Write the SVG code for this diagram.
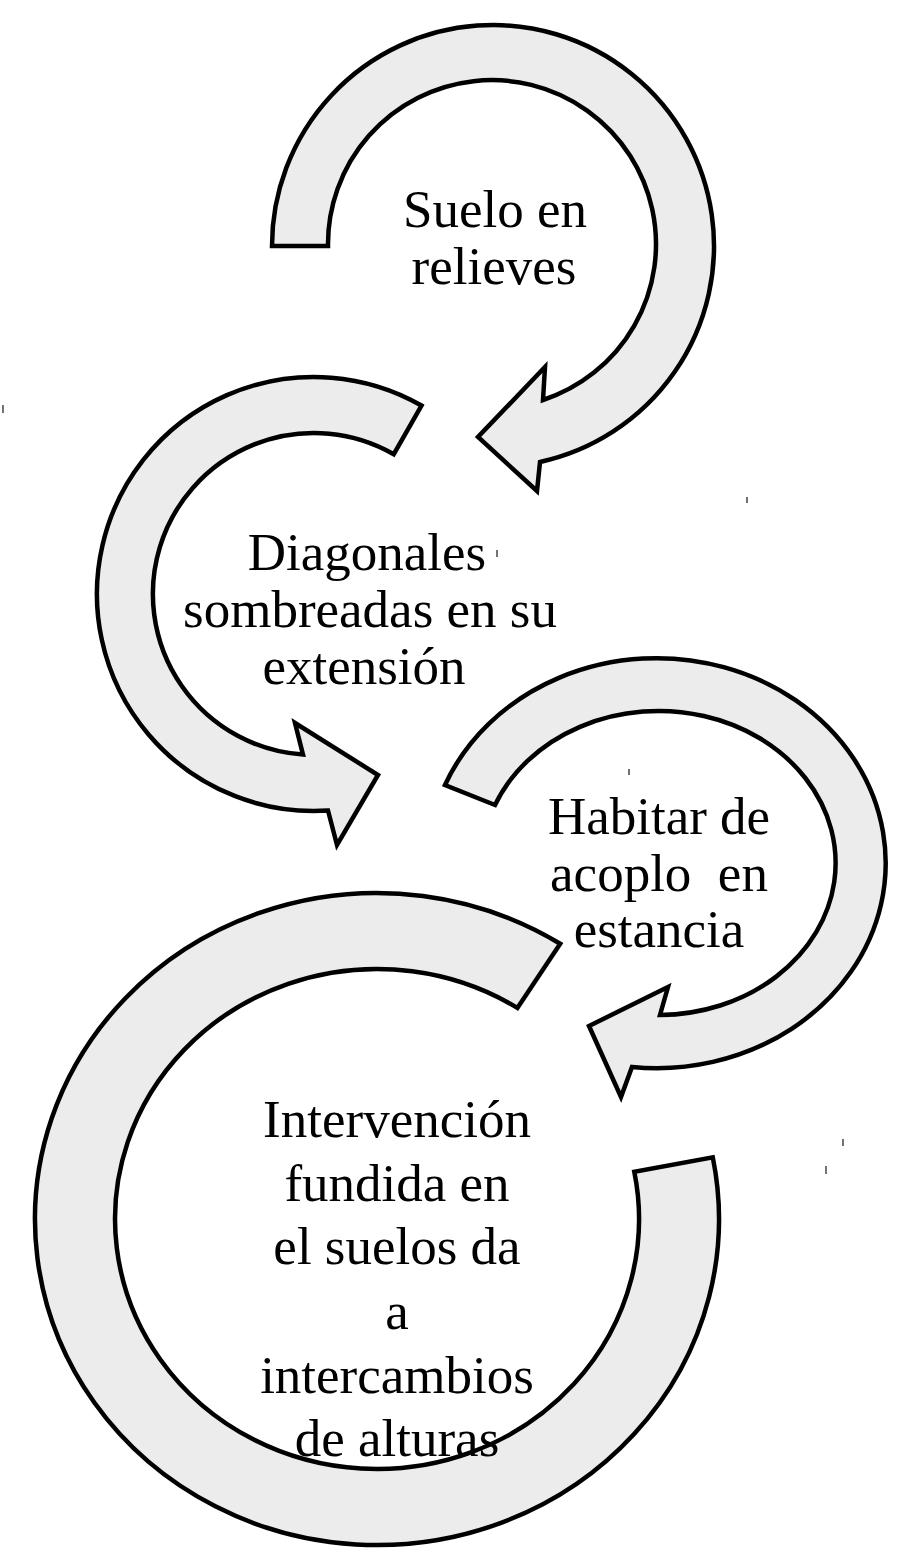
<svg xmlns="http://www.w3.org/2000/svg" width="906" height="1549" viewBox="0 0 906 1549">
<style>
.arr{fill:#ececec;stroke:#000;stroke-width:4.5;stroke-linejoin:miter;stroke-miterlimit:10}
.lbl{font-family:"Liberation Serif","Times New Roman",serif;font-size:53px;fill:#000;text-anchor:middle}
.tick{stroke:#444;stroke-width:1.5}
</style>
<rect width="906" height="1549" fill="#fff"/>
<g id="connectors">
<g class="tick">
<line x1="3" y1="405" x2="3" y2="413"/>
<line x1="747" y1="497" x2="747" y2="503"/>
<line x1="497" y1="550" x2="497" y2="557"/>
<line x1="629" y1="769" x2="629" y2="775"/>
<line x1="843" y1="1139" x2="843" y2="1146"/>
<line x1="826" y1="1166" x2="826" y2="1174"/>
</g>
</g>
<g id="node-suelo">
<path class="arr" d="M272,246 A221,221 0 1 1 540,462 L537,491 L478,437 L545,367 L543,400 A164,164 0 1 0 328,246 Z"/>
<text class="lbl" x="495" y="227">Suelo en</text>
<text class="lbl" x="494" y="284">relieves</text>
</g>
<g id="node-diagonales">
<path class="arr" d="M421.5,405.5 A217,217 0 1 0 328,810.5 L337,845 L378,775 L295,723 L303,754.6 A161,161 0 1 1 393.8,454.2 Z"/>
<text class="lbl" x="367" y="570">Diagonales</text>
<text class="lbl" x="370" y="627">sombreadas en su</text>
<text class="lbl" x="364" y="684">extensión</text>
</g>
<g id="node-habitar">
<path class="arr" d="M445,785 A229,205 0 1 1 632,1067 L621,1097 L589,1026 L668,987 L660,1015 A177,152 0 1 0 495,805 Z"/>
<text class="lbl" x="659" y="834">Habitar de</text>
<text class="lbl" x="659" y="891" xml:space="preserve">acoplo  en</text>
<text class="lbl" x="659" y="947">estancia</text>
</g>
<g id="node-intervencion">
<path class="arr" d="M560.2,943.8 A342,326 0 1 0 712.8,1157.4 L634.3,1171.7 A262,250 0 1 1 517.4,1007.9 Z"/>
<text class="lbl" x="397" y="1137">Intervención</text>
<text class="lbl" x="397" y="1201">fundida en</text>
<text class="lbl" x="397" y="1264">el suelos da</text>
<text class="lbl" x="397" y="1329">a</text>
<text class="lbl" x="397" y="1393">intercambios</text>
<text class="lbl" x="397" y="1456">de alturas</text>
</g>
</svg>
